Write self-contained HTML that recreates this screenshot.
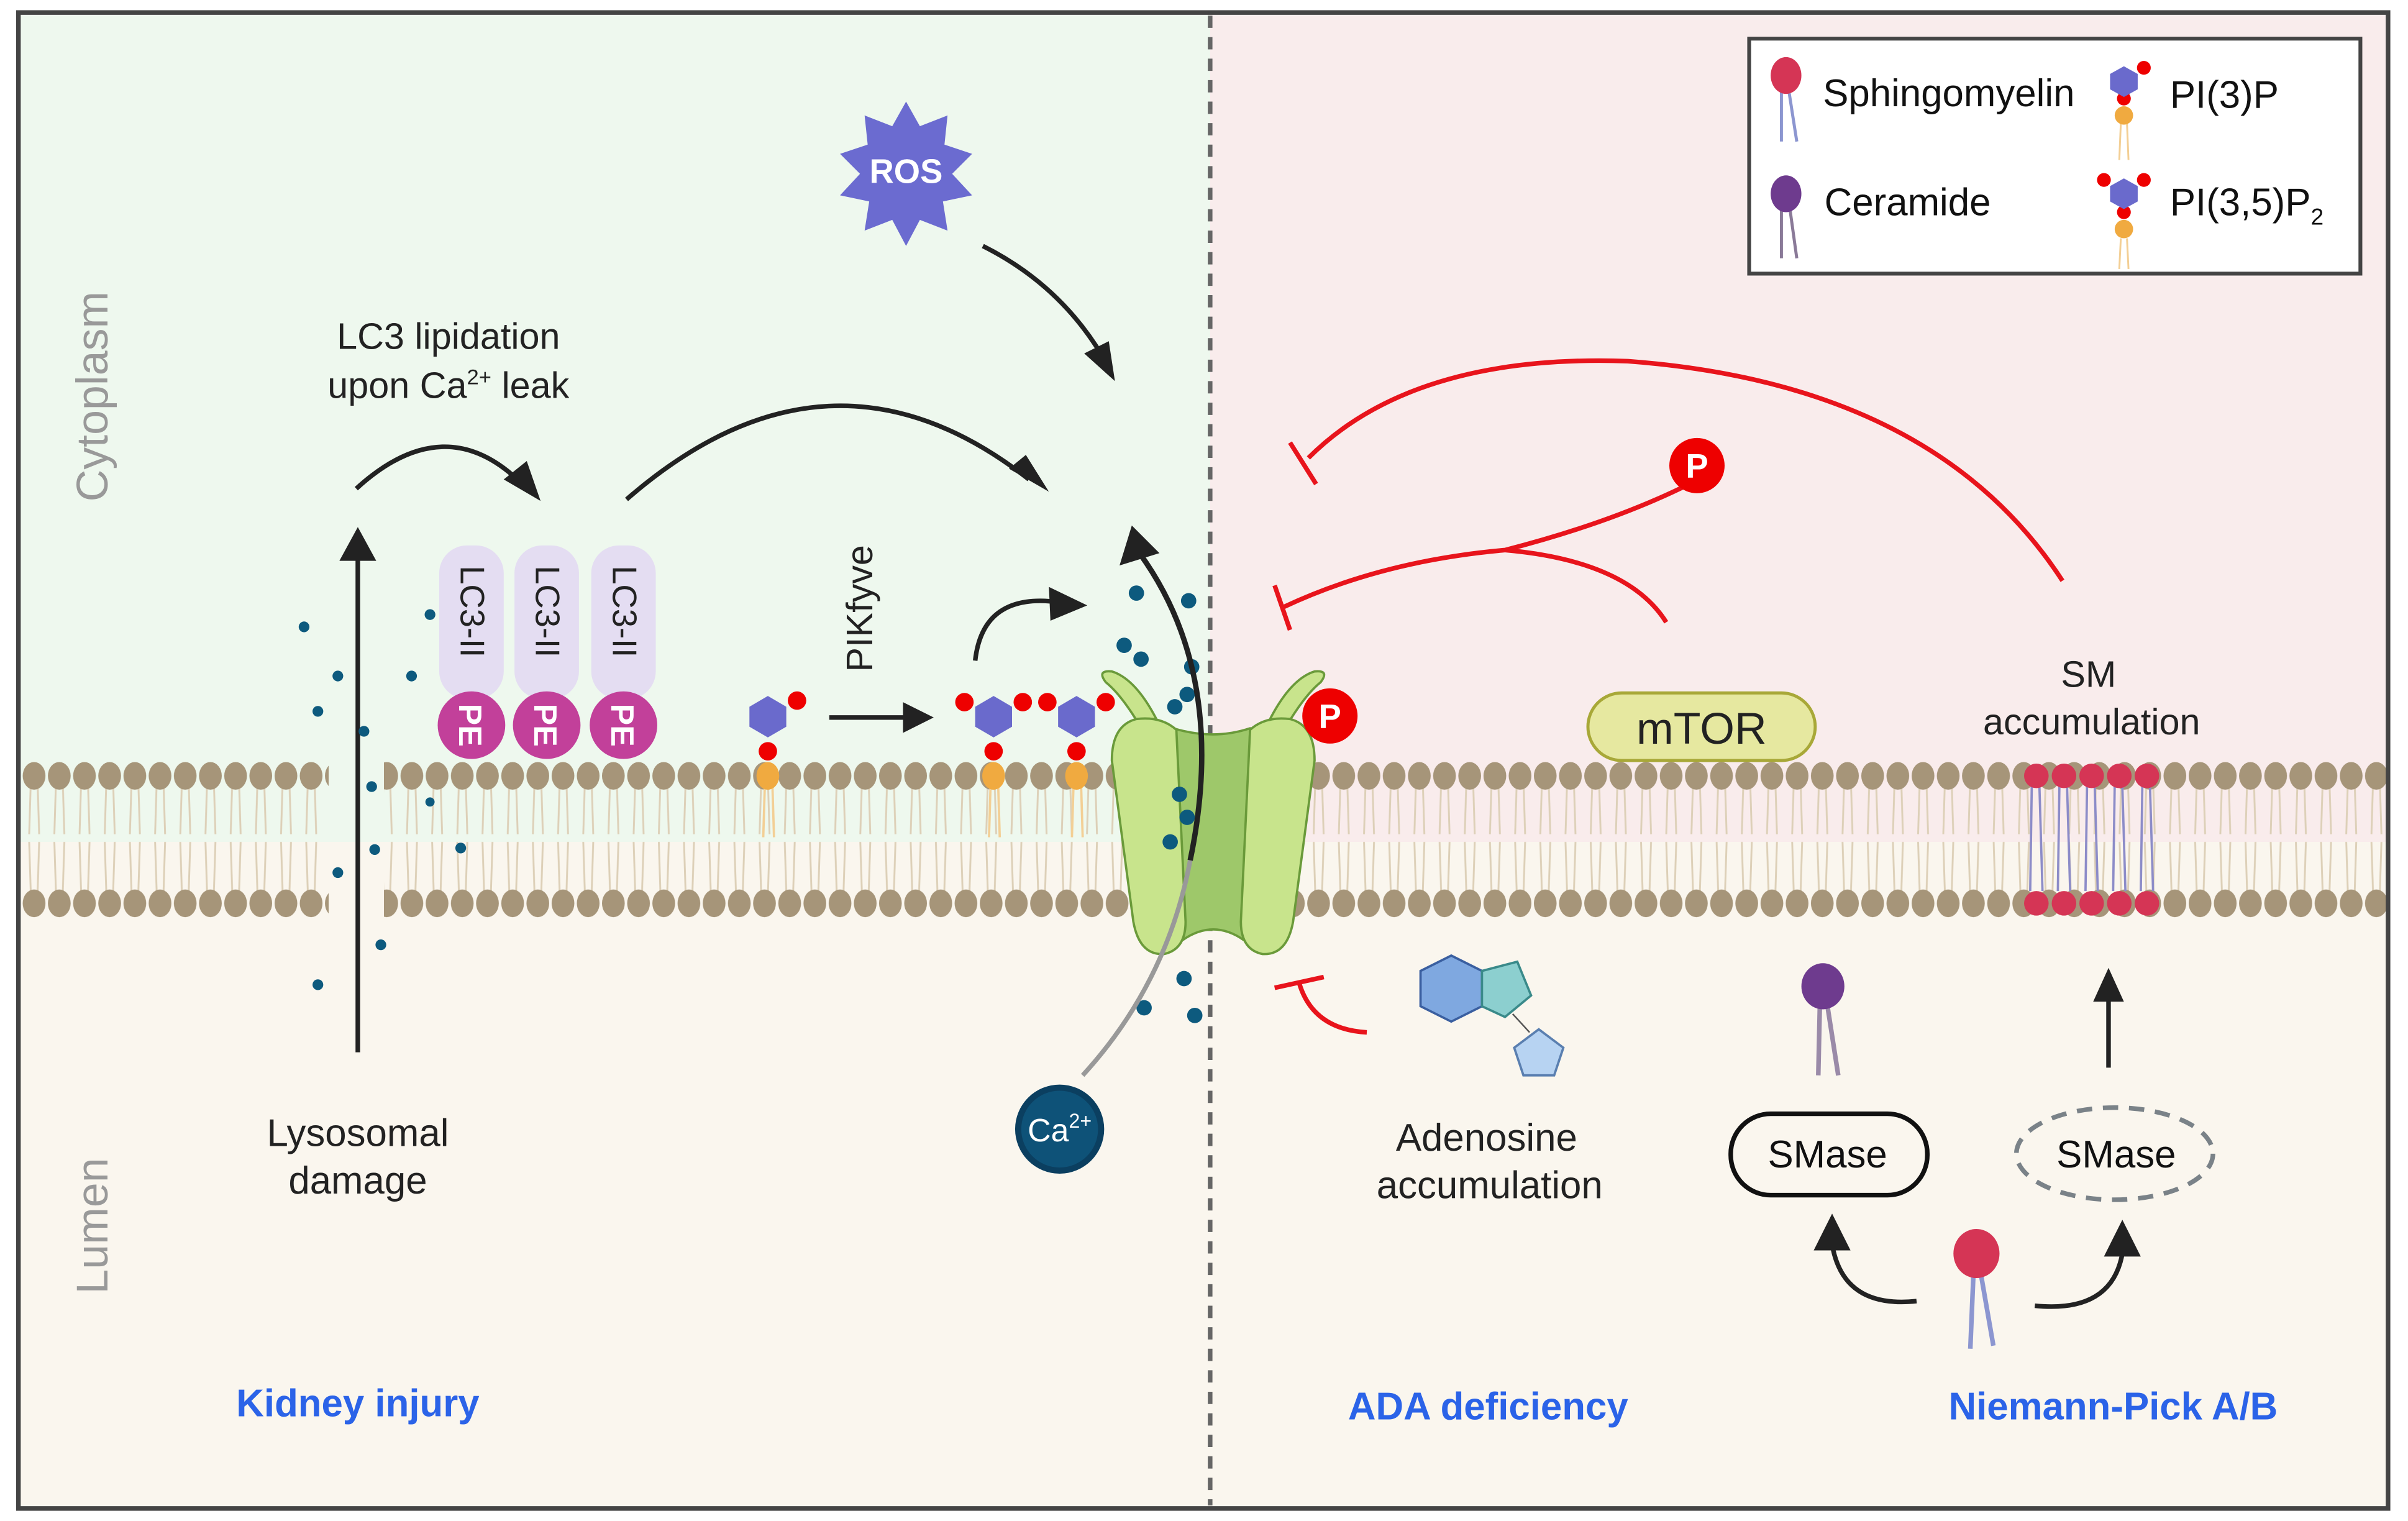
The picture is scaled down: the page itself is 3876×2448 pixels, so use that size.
<!DOCTYPE html>
<html><head><meta charset="utf-8"><style>
html,body{margin:0;padding:0;background:#fff}
svg{display:block}
text{font-family:"Liberation Sans",Arial,sans-serif}
</style></head><body>
<svg width="3876" height="2448" viewBox="0 0 1568 990" xmlns="http://www.w3.org/2000/svg">
<defs>
<pattern id="mem" x="14" y="495" width="16.4" height="105" patternUnits="userSpaceOnUse">
<path d="M6 15 L5 48 M10.5 15 L11.5 48 M5 53 L6 85 M11.5 53 L10.5 85" stroke="#ddd0b8" stroke-width="1.2" fill="none"/>
<ellipse cx="8.2" cy="10" rx="7.4" ry="9" fill="#a69579"/>
<ellipse cx="8.2" cy="93" rx="7.4" ry="9" fill="#a69579"/>
</pattern>
</defs>
<rect x="0" y="0" width="1568" height="990" fill="#fff"/>
<rect x="12" y="8" width="776" height="540" fill="#eef8ee"/>
<rect x="788" y="8" width="767" height="540" fill="#f9ecec"/>
<rect x="12" y="548" width="1543" height="434" fill="#faf6ee"/>
<rect x="14" y="495" width="1540" height="105" fill="url(#mem)"/>
<rect x="214" y="492" width="36" height="56" fill="#eef8ee"/>
<rect x="214" y="548" width="36" height="54" fill="#faf6ee"/>
<g stroke="#8c8cc8" stroke-width="1.5">
<path d="M1323 512 L1322 580 M1328 512 L1330 580 M1341 512 L1340 580 M1346 512 L1348 580 M1359 512 L1358 580 M1364 512 L1366 580 M1377 512 L1376 580 M1382 512 L1384 580 M1395 512 L1394 580 M1400 512 L1402 580"/>
</g>
<g fill="#d53555">
<circle cx="1326" cy="505" r="8"/><circle cx="1344" cy="505" r="8"/><circle cx="1362" cy="505" r="8"/><circle cx="1380" cy="505" r="8"/><circle cx="1398" cy="505" r="8"/>
<circle cx="1326" cy="588" r="8"/><circle cx="1344" cy="588" r="8"/><circle cx="1362" cy="588" r="8"/><circle cx="1380" cy="588" r="8"/><circle cx="1398" cy="588" r="8"/>
</g>
<line x1="788" y1="10" x2="788" y2="980" stroke="#666" stroke-width="3" stroke-dasharray="8,6"/>
<rect x="12" y="8" width="1543" height="974" fill="none" stroke="#444" stroke-width="3"/>

<text transform="translate(70,258) rotate(-90)" font-size="29" fill="#999" text-anchor="middle">Cytoplasm</text>
<text transform="translate(70,798) rotate(-90)" font-size="29" fill="#999" text-anchor="middle">Lumen</text>

<line x1="233" y1="685" x2="233" y2="360" stroke="#222" stroke-width="3"/>
<path d="M221 365 L233 343 L245 365 z" fill="#222"/>
<g fill="#0d5a7e">
<circle cx="198" cy="408" r="3.5"/><circle cx="220" cy="440" r="3.5"/><circle cx="207" cy="463" r="3.5"/><circle cx="237" cy="476" r="3.5"/><circle cx="242" cy="512" r="3.5"/><circle cx="280" cy="400" r="3.5"/><circle cx="268" cy="440" r="3.5"/><circle cx="300" cy="552" r="3.5"/><circle cx="244" cy="553" r="3.5"/><circle cx="220" cy="568" r="3.5"/><circle cx="248" cy="615" r="3.5"/><circle cx="207" cy="641" r="3.5"/><circle cx="280" cy="522" r="3"/>
</g>
<text x="233" y="746" font-size="25" fill="#222" text-anchor="middle">Lysosomal</text>
<text x="233" y="777" font-size="25" fill="#222" text-anchor="middle">damage</text>
<text x="292" y="227" font-size="24" fill="#222" text-anchor="middle">LC3 lipidation</text>
<text x="292" y="259" font-size="24" fill="#222" text-anchor="middle">upon Ca<tspan font-size="14" dy="-9">2+</tspan><tspan dy="9"> leak</tspan></text>
<path d="M232 318 Q290 265 340 315" fill="none" stroke="#222" stroke-width="3"/>
<path d="M328 312 L352 326 L343 300 z" fill="#222"/>

<g fill="#e4ddf2">
<rect x="286" y="355" width="42" height="100" rx="18"/><rect x="335" y="355" width="42" height="100" rx="18"/><rect x="385" y="355" width="42" height="100" rx="18"/>
</g>
<g font-size="22" fill="#222" text-anchor="middle">
<text transform="translate(300,398) rotate(90)">LC3-II</text>
<text transform="translate(349,398) rotate(90)">LC3-II</text>
<text transform="translate(399,398) rotate(90)">LC3-II</text>
</g>
<g fill="#c2409a"><circle cx="307" cy="472" r="22"/><circle cx="356" cy="472" r="22"/><circle cx="406" cy="472" r="22"/></g>
<g font-size="21" fill="#fff" font-weight="bold" text-anchor="middle">
<text transform="translate(299,472) rotate(90)">PE</text>
<text transform="translate(348,472) rotate(90)">PE</text>
<text transform="translate(398,472) rotate(90)">PE</text>
</g>
<path d="M408 325 Q540 210 670 312" fill="none" stroke="#222" stroke-width="3"/>
<path d="M657 305 L683 320 L668 296 z" fill="#222"/>

<polygon fill="#6b6bd0" points="590,66 599,82 617,75 615,94 633,100 620,113 633,127 614,131 617,150 599,143 590,160 581,143 563,150 566,131 547,127 560,113 547,100 565,94 563,75 581,82"/>
<text x="590" y="119" font-size="22" fill="#fff" font-weight="bold" text-anchor="middle">ROS</text>
<path d="M640 160 Q690 185 718 232" fill="none" stroke="#222" stroke-width="3"/>
<path d="M706 230 L726 248 L722 222 z" fill="#222"/>

<g stroke="#f3cf95" stroke-width="1.5"><path d="M498 512 L497 545 M503 512 L504 545 M645 512 L644 545 M650 512 L651 545 M699 512 L698 545 M704 512 L705 545"/></g>
<g fill="#f0aa40"><ellipse cx="500" cy="505" rx="7.4" ry="9"/><ellipse cx="647" cy="505" rx="7.4" ry="9"/><ellipse cx="701" cy="505" rx="7.4" ry="9"/></g>
<g fill="#e00"><circle cx="500" cy="489" r="6"/><circle cx="519" cy="456" r="6"/><circle cx="647" cy="489" r="6"/><circle cx="628" cy="457" r="6"/><circle cx="666" cy="457" r="6"/><circle cx="701" cy="489" r="6"/><circle cx="682" cy="457" r="6"/><circle cx="720" cy="457" r="6"/></g>
<g fill="#6a6acc">
<polygon points="500,453 512,460 512,473 500,480 488,473 488,460"/>
<polygon points="647,453 659,460 659,473 647,480 635,473 635,460"/>
<polygon points="701,453 713,460 713,473 701,480 689,473 689,460"/>
</g>
<line x1="540" y1="467" x2="590" y2="467" stroke="#222" stroke-width="3"/>
<path d="M588 457 L608 467 L588 477 z" fill="#222"/>
<text transform="translate(568,396) rotate(-90)" font-size="24" fill="#222" text-anchor="middle">PIKfyve</text>
<path d="M635 430 Q640 385 690 392" fill="none" stroke="#222" stroke-width="3"/>
<path d="M683 382 L708 394 L684 404 z" fill="#222"/>

<!-- channel -->
<g stroke="#6a9a3a" stroke-width="1.5" stroke-linejoin="round">
<path d="M764 474 Q790 482 814 474 L810 612 Q790 598 770 612 z" fill="#9ec86a"/>
<path d="M742 472 Q730 452 720 444 Q714 436 724 437 Q740 442 754 470 z" fill="#c8e48c"/>
<path d="M838 472 Q850 452 860 444 Q866 436 856 437 Q840 442 826 470 z" fill="#c8e48c"/>
<path d="M740 468 Q724 472 724 495 L738 600 Q742 622 758 621 Q772 618 772 600 L766 475 Q756 466 740 468 z" fill="#c8e48c"/>
<path d="M840 468 Q856 472 856 495 L842 600 Q838 622 822 621 Q808 618 808 600 L814 475 Q824 466 840 468 z" fill="#c8e48c"/>
</g>
<circle cx="866" cy="466" r="18" fill="#e00"/>
<text x="866" y="474" font-size="22" fill="#fff" font-weight="bold" text-anchor="middle">P</text>
<g fill="#0d5a7e">
<circle cx="740" cy="386" r="5"/><circle cx="774" cy="391" r="5"/><circle cx="732" cy="420" r="5"/><circle cx="743" cy="429" r="5"/><circle cx="776" cy="434" r="5"/><circle cx="773" cy="452" r="5"/><circle cx="765" cy="460" r="5"/><circle cx="768" cy="517" r="5"/><circle cx="773" cy="532" r="5"/><circle cx="762" cy="548" r="5"/><circle cx="771" cy="637" r="5"/><circle cx="745" cy="656" r="5"/><circle cx="778" cy="661" r="5"/>
</g>
<path d="M705 700 Q760 640 775 560" fill="none" stroke="#999" stroke-width="3"/>
<path d="M775 560 Q800 440 742 360" fill="none" stroke="#222" stroke-width="3.5"/>
<path d="M729 368 L737 342 L755 360 z" fill="#222"/>
<circle cx="690" cy="735" r="29" fill="#0b3f60"/>
<circle cx="690" cy="735" r="25" fill="#0e5278"/>
<text x="690" y="743" font-size="21" fill="#fff" text-anchor="middle">Ca<tspan font-size="13" dy="-9">2+</tspan></text>

<g stroke="#e8141c" stroke-width="3" fill="none">
<path d="M1343 378 Q1260 250 1060 235 Q920 230 852 298"/>
<line x1="840" y1="288" x2="857" y2="315"/>
<path d="M1100 315 Q1050 340 980 358 Q900 365 836 395"/>
<path d="M980 358 Q1060 365 1085 405"/>
<line x1="830" y1="381" x2="840" y2="410"/>
<path d="M890 672 Q855 670 846 640"/>
<line x1="830" y1="643" x2="862" y2="636"/>
</g>
<circle cx="1105" cy="303" r="18" fill="#e00"/>
<text x="1105" y="311" font-size="22" fill="#fff" font-weight="bold" text-anchor="middle">P</text>

<rect x="1034" y="451" width="148" height="44" rx="22" fill="#e6e8a0" stroke="#a8a838" stroke-width="2"/>
<text x="1108" y="484" font-size="29" fill="#222" text-anchor="middle">mTOR</text>

<text x="1360" y="447" font-size="24" fill="#222" text-anchor="middle">SM</text>
<text x="1362" y="478" font-size="24" fill="#222" text-anchor="middle">accumulation</text>

<polygon points="945,622 965,632 965,655 945,665 925,655 925,632" fill="#7fa8e0" stroke="#3a5fa0" stroke-width="1.5"/>
<polygon points="965,632 988,626 997,648 980,662 965,655" fill="#8ccfcf" stroke="#3a8a8a" stroke-width="1.5"/>
<line x1="985" y1="660" x2="996" y2="672" stroke="#555" stroke-width="1"/>
<polygon points="1002,670 1018,682 1012,700 992,700 986,682" fill="#b7d3f2" stroke="#5a7fb0" stroke-width="1.5"/>
<text x="968" y="749" font-size="25" fill="#222" text-anchor="middle">Adenosine</text>
<text x="970" y="780" font-size="25" fill="#222" text-anchor="middle">accumulation</text>

<line x1="1185" y1="655" x2="1184" y2="700" stroke="#9a8aa8" stroke-width="3"/>
<line x1="1190" y1="655" x2="1197" y2="700" stroke="#9a8aa8" stroke-width="3"/>
<ellipse cx="1187" cy="642" rx="14" ry="15" fill="#6e3b8e"/>
<rect x="1127" y="725" width="128" height="53" rx="26" fill="none" stroke="#111" stroke-width="3"/>
<text x="1190" y="760" font-size="25" fill="#111" text-anchor="middle">SMase</text>
<ellipse cx="1377" cy="751" rx="64" ry="30" fill="none" stroke="#7a8288" stroke-width="3" stroke-dasharray="10,7"/>
<text x="1378" y="760" font-size="25" fill="#111" text-anchor="middle">SMase</text>
<line x1="1373" y1="695" x2="1373" y2="650" stroke="#222" stroke-width="3"/>
<path d="M1363 652 L1373 630 L1383 652 z" fill="#222"/>
<line x1="1285" y1="830" x2="1283" y2="878" stroke="#8c96d0" stroke-width="3"/>
<line x1="1290" y1="830" x2="1298" y2="876" stroke="#8c96d0" stroke-width="3"/>
<ellipse cx="1287" cy="816" rx="15" ry="16" fill="#d53555"/>
<path d="M1248 847 Q1200 852 1193 810" fill="none" stroke="#222" stroke-width="3"/>
<path d="M1181 814 L1193 790 L1205 814 z" fill="#222"/>
<path d="M1325 850 Q1375 855 1382 816" fill="none" stroke="#222" stroke-width="3"/>
<path d="M1370 818 L1382 794 L1394 818 z" fill="#222"/>

<text x="233" y="922" font-size="25" fill="#2b63e8" font-weight="bold" text-anchor="middle">Kidney injury</text>
<text x="969" y="924" font-size="25" fill="#2b63e8" font-weight="bold" text-anchor="middle">ADA deficiency</text>
<text x="1376" y="924" font-size="25" fill="#2b63e8" font-weight="bold" text-anchor="middle">Niemann-Pick A/B</text>

<rect x="1139" y="25" width="398" height="153" fill="#fff" stroke="#444" stroke-width="2.5"/>
<line x1="1160" y1="60" x2="1160" y2="92" stroke="#8c96d0" stroke-width="2"/>
<line x1="1165" y1="60" x2="1170" y2="92" stroke="#8c96d0" stroke-width="2"/>
<ellipse cx="1163" cy="49" rx="10" ry="12" fill="#d53555"/>
<text x="1187" y="69" font-size="25" fill="#111">Sphingomyelin</text>
<line x1="1160" y1="132" x2="1160" y2="168" stroke="#8a7a98" stroke-width="2"/>
<line x1="1165" y1="132" x2="1170" y2="168" stroke="#8a7a98" stroke-width="2"/>
<ellipse cx="1163" cy="126" rx="10" ry="12" fill="#6e3b8e"/>
<text x="1188" y="140" font-size="25" fill="#111">Ceramide</text>
<g stroke="#f3cf95" stroke-width="1.2"><path d="M1381 80 L1380 104 M1385 80 L1386 104 M1381 155 L1380 175 M1385 155 L1386 175"/></g>
<g fill="#f0aa40"><circle cx="1383" cy="75" r="6"/><circle cx="1383" cy="149" r="6"/></g>
<g fill="#e00"><circle cx="1383" cy="64" r="4.5"/><circle cx="1396" cy="44" r="4.5"/><circle cx="1383" cy="138" r="4.5"/><circle cx="1370" cy="117" r="4.5"/><circle cx="1396" cy="117" r="4.5"/></g>
<g fill="#6a6acc"><polygon points="1383,43 1392,48 1392,58 1383,63 1374,58 1374,48"/><polygon points="1383,116 1392,121 1392,131 1383,136 1374,131 1374,121"/></g>
<text x="1413" y="70" font-size="25" fill="#111">PI(3)P</text>
<text x="1413" y="140" font-size="25" fill="#111">PI(3,5)P<tspan font-size="15" dy="6">2</tspan></text>
</svg>
</body></html>
